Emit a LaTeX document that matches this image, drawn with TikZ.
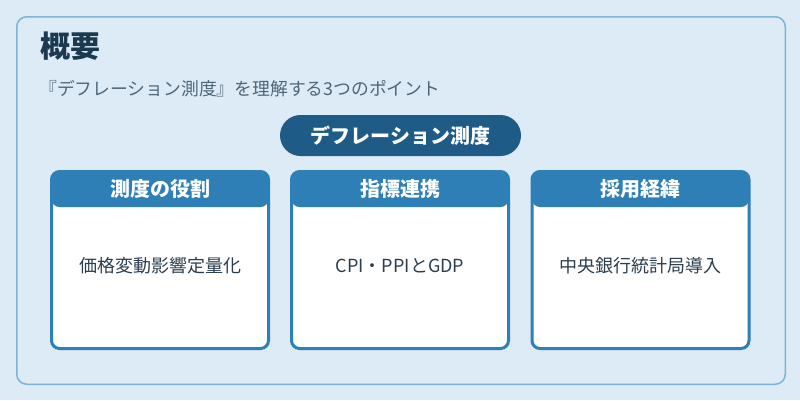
\documentclass[tikz,border=0pt]{standalone}
\usepackage{fontspec}
\setmainfont{Noto Sans CJK JP}
\usetikzlibrary{positioning}

\definecolor{bgblue}{HTML}{DCEBF6}
\definecolor{panelline}{HTML}{7DB3D6}
\definecolor{pillblue}{HTML}{1F5B87}
\definecolor{cardblue}{HTML}{2E7FB5}
\definecolor{titletext}{HTML}{1B3A50}
\definecolor{subtext}{HTML}{4F6679}
\definecolor{bodytext}{HTML}{2B3E4E}

\tikzset{
	card/.style={draw=cardblue, line width=3pt, fill=white, rounded corners=8pt,
		minimum width=217pt, minimum height=177pt, inner sep=0pt,
		path picture={\fill[cardblue] (path picture bounding box.north west)
			rectangle ([yshift=-35.5pt]path picture bounding box.north east);}},
	cardhead/.style={text=white, font=\fontsize{20}{24}\selectfont\bfseries, inner sep=0pt},
	cardbody/.style={text=bodytext, font=\fontsize{18}{22}\selectfont, inner sep=0pt},
}

\begin{document}
\begin{tikzpicture}[x=1pt, y=-1pt]
	%%%	Sfondo
	\fill[bgblue] (0,0) rectangle (800,400);
	\useasboundingbox (0,0) rectangle (800,400);
	\draw[panelline, line width=1.5pt, rounded corners=10pt] (16.75,16.75) rectangle (785.25,384.25);
	
	%%%	Titolo
	\node[anchor=west, inner sep=0pt, text=titletext, font=\fontsize{30}{36}\selectfont\bfseries] (title) at (40,46) {概要};
	\node[anchor=west, inner sep=0pt, text=subtext, font=\fontsize{17.8}{21}\selectfont] (subtitle) at (39,89) {『デフレーション測度』を理解する3つのポイント};
	
	%%%	Pillola
	\node[fill=pillblue, rounded corners=20.5pt, minimum width=241pt, minimum height=41pt, inner sep=0pt,
		text=white, font=\fontsize{20}{24}\selectfont\bfseries] (pill) at (400.5,135.5) {デフレーション測度};
	
	%%%	Schede
	% Ruolo
	\node[card] (role) at (160,260) {};
	\node[cardhead] (rolehead) at ([yshift=-19pt]role.north) {測度の役割};
	\node[cardbody] (roletext) at ([yshift=-6pt]role.center) {価格変動影響定量化};
	
	% Indici
	\node[card] (index) at (400,260) {};
	\node[cardhead] (indexhead) at ([yshift=-19pt]index.north) {指標連携};
	\node[cardbody] (indextext) at ([yshift=-6pt]index.center) {CPI・PPIとGDP};
	
	% Storia
	\node[card] (history) at (640.5,260) {};
	\node[cardhead] (historyhead) at ([yshift=-19pt]history.north) {採用経緯};
	\node[cardbody] (historytext) at ([yshift=-6pt]history.center) {中央銀行統計局導入};
	
\end{tikzpicture}
\end{document}
